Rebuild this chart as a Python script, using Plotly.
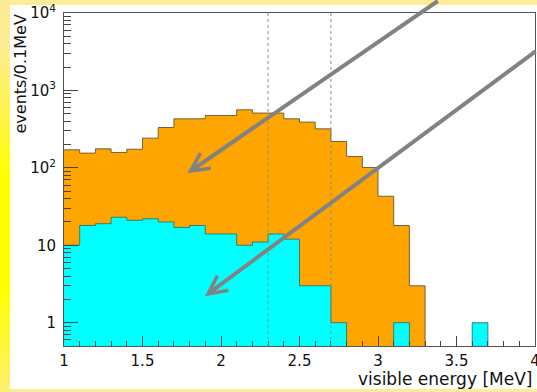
import math
import plotly.graph_objects as go

# ---- data: events per 0.1 MeV bin, visible energy 1.0 - 4.0 MeV ----
bin_edges = [round(1.0 + 0.1 * i, 1) for i in range(31)]
total_events = [171, 155, 176, 158, 174, 242, 332, 430, 430, 475,
                475, 562, 510, 510, 430, 390, 319, 219, 140, 101,
                43, 18, 3, 0, 0, 0, 0, 0, 0, 0]
subset_events = [10, 18, 19, 23, 21, 22, 20, 17, 18, 14,
                 14, 10, 11, 14, 12, 3, 3, 1, 0, 0,
                 0, 1, 0, 0, 0, 0, 1, 0, 0, 0]
energy_cuts = [2.3, 2.7]
arrow_tips = [(1.785, 85.0), (1.898, 2.2)]

x_ticks = [1, 1.5, 2, 2.5, 3, 3.5, 4]
x_tick_text = ["1", "1.5", "2", "2.5", "3", "3.5", "4"]
y_ticks = [1, 10, 100, 1000, 10000]
y_tick_text = ["1", "10", "10<sup>2</sup>", "10<sup>3</sup>", "10<sup>4</sup>"]

# ---- geometry ----
W, H = 537, 392
M_L, M_R, M_T, M_B = 64, 2, 13, 46
PW, PH = W - M_L - M_R, H - M_T - M_B
Y_MIN = 0.5
EMPTY = 1e-3  # empty bins sit below the visible log range


def px_x(px):
    return (px - M_L) / PW


def px_y(py):
    return (H - M_B - py) / PH


def step_y(vals):
    v = [x if x > 0 else EMPTY for x in vals]
    return v + [v[-1]]


FONT = "DejaVu Sans"
fig = go.Figure()

fig.add_trace(go.Scatter(
    x=bin_edges, y=step_y(total_events), mode="lines", line_shape="hv",
    fill="tozeroy", fillcolor="#ffa500",
    line=dict(color="rgba(90,80,60,0.85)", width=1), hoverinfo="skip"))
fig.add_trace(go.Scatter(
    x=bin_edges, y=step_y(subset_events), mode="lines", line_shape="hv",
    fill="tozeroy", fillcolor="#00ffff",
    line=dict(color="rgba(40,110,110,0.85)", width=1), hoverinfo="skip"))

shapes = []
# slide background: pale yellow with a brighter band down the left edge
def lerp(c0, c1, t):
    return tuple(round(a + (b - a) * t) for a, b in zip(c0, c1))

pale = (253, 236, 150)
bright = (255, 255, 0)
step = 8
for py in range(0, H, step):
    c = py + step / 2
    t = max(0.0, 1.0 - abs(c - 235) / 190.0)
    r, g, b = lerp(pale, bright, min(1.0, t * 1.4))
    shapes.append(dict(type="rect", xref="paper", yref="paper", layer="below",
                       x0=px_x(-1), x1=px_x(10.5), y0=px_y(py + step + 0.5), y1=px_y(py),
                       fillcolor=f"rgb({r},{g},{b})", line=dict(width=0)))
# white canvas
shapes.append(dict(type="rect", xref="paper", yref="paper", layer="below",
                   x0=px_x(10), x1=px_x(W + 2), y0=px_y(389), y1=px_y(5),
                   fillcolor="white", line=dict(width=0)))
# dotted energy-window lines
for xc in energy_cuts:
    shapes.append(dict(type="line", xref="x", yref="paper", layer="above",
                       x0=xc, x1=xc, y0=0, y1=1,
                       line=dict(color="#8a8a8a", width=1, dash="dot")))

annotations = []
tails = [(252, -180), (344, -246)]
for (xt, yt), (ax, ay) in zip(arrow_tips, tails):
    annotations.append(dict(x=xt, y=math.log10(yt), xref="x", yref="y",
                            text="", showarrow=True, ax=ax, ay=ay,
                            arrowhead=5, arrowsize=0.9, arrowwidth=4,
                            arrowcolor="#828282", standoff=0))
annotations.append(dict(text="visible energy [MeV]", xref="paper", yref="paper",
                        x=px_x(534), y=px_y(379), xanchor="right", yanchor="middle",
                        showarrow=False, font=dict(family=FONT, size=17, color="#111")))
annotations.append(dict(text="events/0.1MeV", xref="paper", yref="paper",
                        x=px_x(20), y=px_y(13), xanchor="center", yanchor="top",
                        textangle=-90, showarrow=False,
                        font=dict(family=FONT, size=16, color="#111")))

minor_y = [m * 10 ** k for k in range(-1, 4) for m in range(2, 10)
           if Y_MIN <= m * 10 ** k <= 1e4]

fig.update_layout(
    width=W, height=H, autosize=False,
    margin=dict(l=M_L, r=M_R, t=M_T, b=M_B, pad=0, autoexpand=False),
    paper_bgcolor="rgb(253,236,150)", plot_bgcolor="white",
    showlegend=False, shapes=shapes, annotations=annotations,
    font=dict(family=FONT, size=15, color="#111"),
    xaxis=dict(range=[1, 4], tickvals=x_ticks, ticktext=x_tick_text,
               ticks="inside", ticklen=10, tickwidth=1, tickcolor="#444",
               minor=dict(ticks="inside", ticklen=5, dtick=0.1, tick0=1,
                          tickcolor="#444", showgrid=False),
               showgrid=False, zeroline=False, showline=True, mirror=True,
               linecolor="#555", linewidth=1, ticklabelstandoff=1,
               ticklabeloverflow="allow", automargin=False),
    yaxis=dict(type="log", range=[math.log10(Y_MIN), 4],
               tickvals=y_ticks, ticktext=y_tick_text,
               ticks="inside", ticklen=14, tickwidth=1, tickcolor="#444",
               minor=dict(ticks="inside", ticklen=7, tickvals=minor_y,
                          tickcolor="#444", showgrid=False),
               showgrid=False, zeroline=False, showline=True, mirror=True,
               linecolor="#555", linewidth=1, ticklabelstandoff=4,
               automargin=False),
)

fig.write_html("out.html")
